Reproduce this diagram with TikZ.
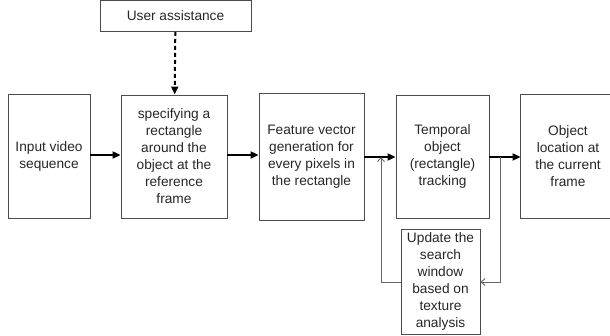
\documentclass[tikz,border=0pt]{standalone}
\usepackage{fontspec}
\setmainfont{Liberation Sans}
\usetikzlibrary{arrows.meta}
\begin{document}
\begin{tikzpicture}[x=1pt,y=-1pt,
  box/.style={draw=black!70,line width=0.9pt,align=center,inner sep=0pt,
    font=\fontsize{13.7}{17}\selectfont,text=black!85},
  flow/.style={line width=2pt,-{Triangle[length=8pt,width=7pt]}},
  back/.style={draw=black!60,line width=0.9pt,-{Straight Barb[length=4pt,width=7pt]}}]
\clip (0,0) rectangle (610,336);
\useasboundingbox (0,0) rectangle (610,336);
\node[box,minimum width=151pt,minimum height=31pt] (user) at (175.5,16) {User assistance};
\node[box,minimum width=82pt,minimum height=124pt] (input) at (49,156) {Input video\\sequence};
\node[box,minimum width=106pt,minimum height=123pt] (spec) at (174,156.5)
  {specifying a\\rectangle\\around the\\object at the\\reference\\frame};
\node[box,minimum width=105pt,minimum height=127pt] (feat) at (311.5,156.5)
  {Feature vector\\generation for\\every pixels in\\the rectangle};
\node[box,minimum width=93pt,minimum height=123pt] (temp) at (442.5,156.5)
  {Temporal\\object\\(rectangle)\\tracking};
% last box runs off the right edge, so only three sides are drawn
\node[box,draw=none,minimum width=94pt,minimum height=123pt] (obj) at (568,156.5)
  {Object\\location at\\the current\\frame};
\draw[black!70,line width=0.9pt] ([xshift=30pt]obj.north east) -- (obj.north west)
  -- (obj.south west) -- ([xshift=30pt]obj.south east);
\node[box,minimum width=79pt,minimum height=105pt] (upd) at (440.5,281.5)
  {Update the\\search\\window\\based on\\texture\\analysis};
% main flow
\draw[flow,dash pattern=on 4pt off 3pt] (user) -- (spec);
\draw[flow] (input.east |- 0,155) -- (spec.west |- 0,155);
\draw[flow] (spec.east |- 0,155) -- (feat.west |- 0,155);
\draw[flow] (feat.east |- 0,157) -- (temp.west |- 0,157);
\draw[flow] (temp.east |- 0,157) -- (obj.west |- 0,157);
% feedback loop through the update box
\coordinate (tapout) at (500,157);
\coordinate (tapin) at (381,157);
\draw[back] (tapout) |- (upd.east |- 0,282);
\draw[back] (upd.west |- 0,282) -| (tapin);
\end{tikzpicture}
\end{document}
